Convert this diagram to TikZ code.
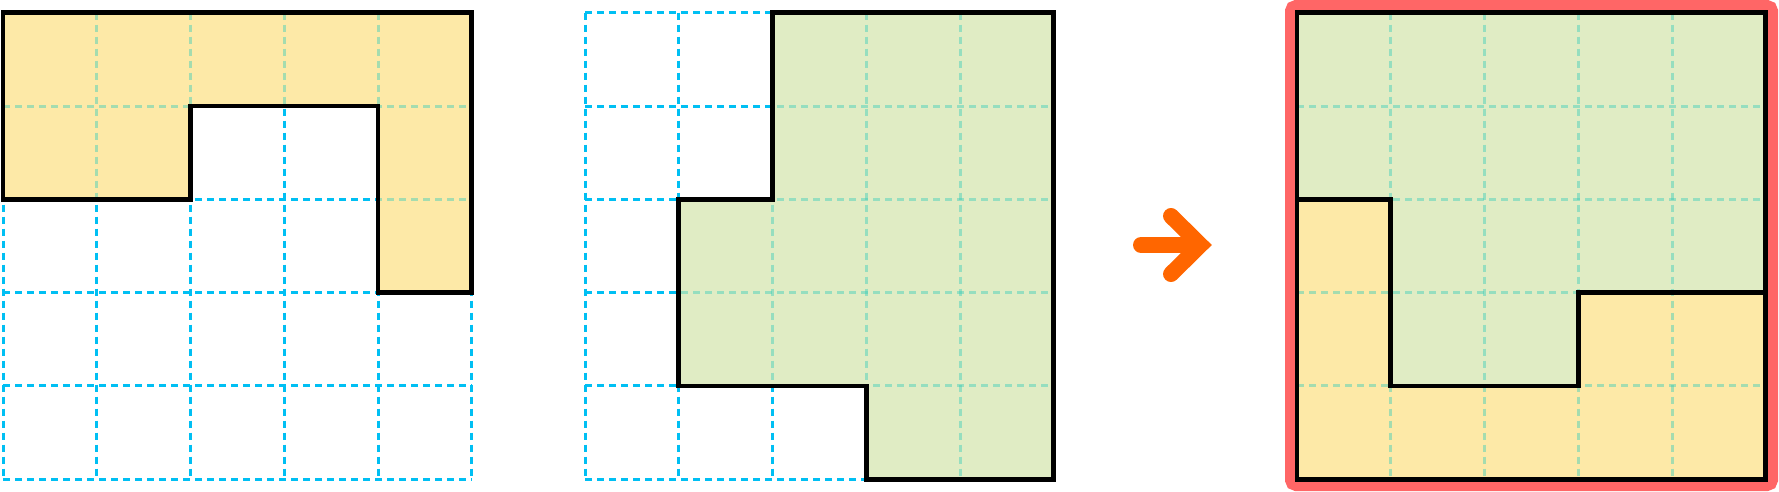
\documentclass[tikz,border=0pt]{standalone}
\definecolor{gblue}{HTML}{00BFF3}
\definecolor{yfill}{RGB}{253,233,167}
\definecolor{gfill}{RGB}{224,236,196}
\definecolor{tealgrid}{RGB}{60,205,185}
\definecolor{redframe}{HTML}{FF6666}
\definecolor{arrorange}{HTML}{FF6600}
\begin{document}
\begin{tikzpicture}[x=1pt,y=-1pt,
  bluegrid/.style={draw=gblue,line width=3pt,dash pattern=on 7pt off 5pt},
  ingrid/.style={draw=tealgrid,draw opacity=0.45,line width=3pt,dash pattern=on 7pt off 5pt},
  outline/.style={draw=black,line width=4.6pt,line join=miter},
  arrowline/.style={draw=arrorange,line width=16pt,line cap=round,line join=miter}]
\useasboundingbox (0,0) rectangle (1779,492);

% ---------- left grid ----------
\begin{scope}[shift={(3,12.7)},x=93.75pt,y=-93.32pt]
  \foreach \i in {0,...,5} {
    \draw[bluegrid] (\i,0) -- (\i,5);
    \draw[bluegrid] (0,\i) -- (5,\i);
  }
  \fill[yfill] (0,0)--(5,0)--(5,3)--(4,3)--(4,1)--(2,1)--(2,2)--(0,2)--cycle;
  \begin{scope}
    \clip (0,0)--(5,0)--(5,3)--(4,3)--(4,1)--(2,1)--(2,2)--(0,2)--cycle;
    \foreach \i in {1,...,4} {
      \draw[ingrid] (\i,0) -- (\i,5);
      \draw[ingrid] (0,\i) -- (5,\i);
    }
  \end{scope}
  \draw[outline] (0,0)--(5,0)--(5,3)--(4,3)--(4,1)--(2,1)--(2,2)--(0,2)--cycle;
\end{scope}

% ---------- middle grid ----------
\begin{scope}[shift={(585,12.7)},x=93.75pt,y=-93.32pt]
  \foreach \i in {0,...,5} {
    \draw[bluegrid] (\i,0) -- (\i,5);
    \draw[bluegrid] (0,\i) -- (5,\i);
  }
  \fill[gfill] (2,0)--(5,0)--(5,5)--(3,5)--(3,4)--(1,4)--(1,2)--(2,2)--cycle;
  \begin{scope}
    \clip (2,0)--(5,0)--(5,5)--(3,5)--(3,4)--(1,4)--(1,2)--(2,2)--cycle;
    \foreach \i in {1,...,4} {
      \draw[ingrid] (\i,0) -- (\i,5);
      \draw[ingrid] (0,\i) -- (5,\i);
    }
  \end{scope}
  \draw[outline] (2,0)--(5,0)--(5,5)--(3,5)--(3,4)--(1,4)--(1,2)--(2,2)--cycle;
\end{scope}

% ---------- arrow ----------
\draw[arrowline] (1141,245) -- (1197,245);
\draw[arrowline] (1171,216) -- (1200.4,245) -- (1171,274);

% ---------- right result ----------
\draw[draw=redframe,line width=12pt,rounded corners=5pt] (1291,6) rectangle (1772,485);
\begin{scope}[shift={(1297,12.7)},x=93.75pt,y=-93.32pt]
  \fill[gfill] (0,0)--(5,0)--(5,3)--(3,3)--(3,4)--(1,4)--(1,2)--(0,2)--cycle;
  \fill[yfill] (0,2)--(1,2)--(1,4)--(3,4)--(3,3)--(5,3)--(5,5)--(0,5)--cycle;
  \begin{scope}
    \clip (0,0) rectangle (5,5);
    \foreach \i in {1,...,4} {
      \draw[ingrid] (\i,0) -- (\i,5);
      \draw[ingrid] (0,\i) -- (5,\i);
    }
  \end{scope}
  \draw[outline] (0,2)--(1,2)--(1,4)--(3,4)--(3,3)--(5,3);
  \draw[outline] (0,0) rectangle (5,5);
\end{scope}
\end{tikzpicture}
\end{document}
